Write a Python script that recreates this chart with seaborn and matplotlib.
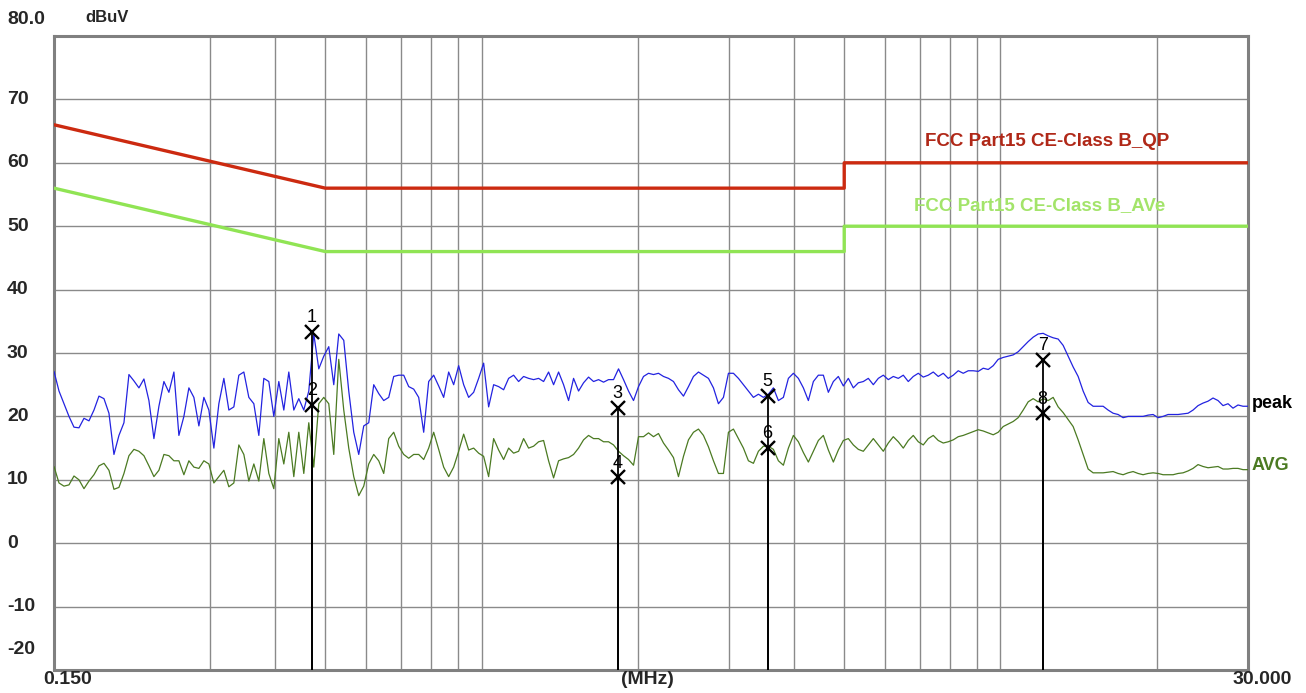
import numpy as np
import pandas as pd
import matplotlib
matplotlib.use("Agg")
import matplotlib.pyplot as plt
import matplotlib.transforms as mtransforms
import seaborn as sns

# ---------------- data ----------------
f_start, f_stop, n_points = 0.15, 30.0, 240

peak_dbuv = [
    27.1, 24.0, 22.0, 20.0, 18.3, 18.2, 19.7, 19.3, 21.0, 23.2,
    22.8, 20.5, 14.0, 17.0, 19.0, 26.6, 25.6, 24.5, 25.9, 22.5,
    16.5, 21.6, 25.5, 23.8, 27.0, 17.0, 20.0, 24.5, 23.0, 18.5,
    23.0, 21.0, 15.0, 22.0, 26.0, 21.0, 21.5, 26.5, 27.0, 23.0,
    22.0, 17.0, 26.0, 25.5, 20.0, 25.5, 21.0, 27.0, 21.0, 22.8,
    21.0, 24.0, 33.0, 27.5, 29.5, 31.0, 25.0, 33.0, 32.0, 24.0,
    17.5, 14.0, 18.5, 19.0, 25.0, 23.6, 22.5, 23.0, 26.3, 26.5,
    26.5, 24.7, 24.3, 23.0, 17.5, 25.5, 26.5, 24.8, 23.0, 27.0,
    25.0, 28.0, 25.0, 23.0, 23.8, 26.0, 28.4, 21.5, 25.0, 24.7,
    24.2, 26.0, 26.5, 25.5, 26.3, 26.0, 25.8, 26.0, 25.5, 27.0,
    25.0, 27.0, 25.0, 22.5, 26.0, 24.0, 25.3, 26.2, 25.5, 25.8,
    25.4, 25.8, 25.8, 27.5, 25.8, 24.0, 22.5, 24.7, 26.3, 26.8,
    26.6, 26.8, 26.3, 26.0, 25.5, 24.2, 23.2, 24.7, 26.3, 27.0,
    26.5, 26.0, 24.5, 22.0, 23.0, 26.8, 26.8, 26.0, 25.0, 24.0,
    23.0, 23.5, 23.0, 23.5, 24.5, 22.5, 23.0, 26.0, 26.8, 26.0,
    24.5, 22.5, 25.5, 26.5, 26.5, 23.8, 25.5, 26.3, 24.8, 26.0,
    24.5, 25.3, 25.5, 26.0, 25.0, 26.0, 26.5, 25.8, 26.3, 26.0,
    26.5, 25.5, 26.3, 26.8, 26.2, 26.5, 27.0, 26.3, 26.8, 26.0,
    26.5, 27.2, 26.8, 27.2, 27.2, 27.1, 27.6, 27.4, 28.0, 29.0,
    29.3, 29.5, 29.7, 30.2, 31.0, 31.8, 32.5, 33.0, 33.1, 32.7,
    32.4, 32.2, 31.2, 29.5, 27.8, 26.3, 24.0, 22.2, 21.6, 21.6,
    21.6, 21.0, 20.5, 20.3, 19.8, 20.0, 20.0, 20.0, 20.0, 20.2,
    20.3, 19.8, 20.0, 20.3, 20.3, 20.3, 20.4, 20.5, 21.0, 21.7,
    22.1, 22.4, 22.9, 22.5, 21.7, 22.0, 21.3, 21.8, 21.6, 21.6,
]

avg_dbuv = [
    12.1, 9.5, 9.0, 9.2, 10.6, 10.0, 8.6, 9.8, 10.8, 12.2,
    12.6, 11.5, 8.5, 8.8, 11.0, 13.8, 14.8, 14.5, 13.8, 12.2,
    10.5, 11.5, 14.0, 13.8, 13.0, 13.0, 10.8, 13.0, 12.0, 11.8,
    13.0, 12.5, 9.5, 10.5, 11.5, 8.9, 9.5, 15.5, 14.0, 9.8,
    12.5, 9.8, 16.5, 11.0, 8.6, 16.5, 12.5, 17.5, 10.5, 17.5,
    11.0, 19.0, 12.0, 22.0, 23.0, 22.0, 14.0, 29.0, 21.0, 15.0,
    10.5, 7.5, 9.0, 12.5, 14.0, 13.0, 11.0, 16.5, 17.5, 15.3,
    14.0, 13.4, 14.0, 14.0, 13.2, 15.0, 17.5, 14.8, 12.0, 10.5,
    12.0, 14.5, 17.2, 14.7, 15.0, 14.2, 13.7, 10.5, 16.5, 14.7,
    13.2, 15.0, 14.2, 14.5, 16.5, 15.0, 15.3, 16.0, 16.2, 13.0,
    10.3, 13.0, 13.3, 13.5, 14.0, 15.0, 16.3, 17.0, 16.5, 16.5,
    16.0, 16.0, 15.5, 14.5, 13.8, 13.2, 12.3, 16.8, 16.8, 17.4,
    16.8, 17.3, 15.8, 14.7, 13.5, 10.5, 13.7, 16.3, 17.5, 18.0,
    17.0, 15.2, 13.0, 11.0, 11.0, 17.5, 18.0, 16.5, 15.0, 13.0,
    12.6, 14.5, 15.3, 15.3, 14.8, 13.0, 12.3, 15.0, 17.0, 16.0,
    14.3, 12.8, 14.5, 16.2, 17.0, 14.7, 12.8, 14.7, 16.2, 16.5,
    15.5, 14.8, 14.5, 15.5, 16.5, 15.5, 14.5, 15.8, 16.8, 16.0,
    15.0, 16.2, 17.0, 16.0, 15.5, 16.5, 17.0, 16.2, 15.8, 16.0,
    16.3, 16.8, 17.0, 17.3, 17.6, 17.9, 17.7, 17.4, 17.1, 17.5,
    18.4, 18.8, 19.2, 19.8, 21.0, 22.3, 22.8, 22.3, 22.8, 22.5,
    23.0, 21.5, 20.6, 19.5, 18.4, 16.3, 14.0, 11.7, 11.1, 11.1,
    11.1, 11.2, 11.3, 11.0, 10.8, 11.1, 11.3, 11.0, 10.8, 11.0,
    11.1, 11.0, 10.8, 10.8, 10.8, 11.0, 11.1, 11.4, 11.8, 12.4,
    12.1, 11.9, 12.0, 12.1, 11.7, 11.7, 11.8, 11.8, 11.6, 11.6,
]

qp_limit_f = [0.15, 0.5, 5.0, 5.0, 30.0]
qp_limit_v = [66.0, 56.0, 56.0, 60.0, 60.0]
av_limit_f = [0.15, 0.5, 5.0, 5.0, 30.0]
av_limit_v = [56.0, 46.0, 46.0, 50.0, 50.0]

marker_ids = ["1", "2", "3", "4", "5", "6", "7", "8"]
marker_f = [0.471, 0.471, 1.83, 1.83, 3.56, 3.56, 12.06, 12.06]
marker_v = [33.3, 21.8, 21.3, 10.4, 23.2, 15.0, 28.9, 20.5]

y_ticks = [70, 60, 50, 40, 30, 20, 10, 0, -10]
x_grid = [0.3, 0.4, 0.5, 0.6, 0.7, 0.8, 0.9, 1, 2, 3, 4, 5, 6, 7, 8, 9, 10, 20]

freq = np.geomspace(f_start, f_stop, n_points)
df = pd.DataFrame({"freq": np.concatenate([freq, freq]),
                   "level": peak_dbuv + avg_dbuv,
                   "trace": ["peak"] * n_points + ["AVG"] * n_points})

# ---------------- plot ----------------
sns.set_theme(style="white")
plt.rcParams["font.family"] = ["Liberation Sans", "DejaVu Sans"]

W, H = 1306, 693
fig = plt.figure(figsize=(W / 100, H / 100), dpi=100)
ax = fig.add_axes([54 / W, (H - 670) / H, (1248 - 54) / W, (670 - 36) / H])

ax.set_xscale("log")
ax.set_xlim(f_start, f_stop)
ax.set_ylim(-20, 80)

# grid
for g in x_grid:
    ax.axvline(g, color="#8a8a8a", lw=1.0, zorder=0)
for t in y_ticks:
    ax.axhline(t, color="#8a8a8a", lw=1.0, zorder=0)
ax.set_xticks([])
ax.set_yticks([])
ax.minorticks_off()
ax.tick_params(which="both", length=0)
for s in ax.spines.values():
    s.set_color("#808080")
    s.set_linewidth(2.2)

# limit lines
sns.lineplot(x=qp_limit_f, y=qp_limit_v, ax=ax, color="#cc2a10", lw=2.4,
             sort=False, estimator=None, zorder=3)
sns.lineplot(x=av_limit_f, y=av_limit_v, ax=ax, color="#90e454", lw=2.4,
             sort=False, estimator=None, zorder=3)

# traces
sns.lineplot(data=df, x="freq", y="level", hue="trace",
             palette={"peak": "#2323e0", "AVG": "#4b7a22"},
             hue_order=["AVG", "peak"], lw=0.9, ax=ax, legend=False,
             estimator=None, sort=False, zorder=4)

# markers
ax.vlines(marker_f, -20, marker_v, color="black", lw=1.3, zorder=5)
ax.plot(marker_f, marker_v, "x", color="black", ms=10, mew=1.7, zorder=6)
for mid, mf, mv in zip(marker_ids, marker_f, marker_v):
    ax.text(mf, mv + 0.9, mid, ha="center", va="bottom", fontsize=13,
            color="black", zorder=7)

# limit labels
ax.text(12.3, 63.3, "FCC Part15 CE-Class B_QP", color="#b02818",
        fontsize=13.5, fontweight="bold", ha="center", va="center")
ax.text(11.9, 53.3, "FCC Part15 CE-Class B_AVe", color="#a3e46a",
        fontsize=13.5, fontweight="bold", ha="center", va="center")

# trace labels right of frame
ax.annotate("peak", xy=(1.003, 22.1), xycoords=("axes fraction", "data"),
            fontsize=13, fontweight="bold", color="black", va="center",
            annotation_clip=False)
ax.annotate("AVG", xy=(1.003, 12.2), xycoords=("axes fraction", "data"),
            fontsize=13, fontweight="bold", color="#4b7a22", va="center",
            annotation_clip=False)

# y labels (left aligned at fixed x)
ytr = mtransforms.blended_transform_factory(fig.transFigure, ax.transData)
for t in y_ticks:
    ax.text(7 / W, t, str(t), transform=ytr, ha="left", va="center",
            fontsize=14, fontweight="bold", clip_on=False)
fig.text(7 / W, 1 - 20 / H, "80.0", ha="left", va="center",
         fontsize=14, fontweight="bold")
fig.text(7 / W, 1 - 649 / H, "-20", ha="left", va="center",
         fontsize=14, fontweight="bold")
fig.text(85 / W, 1 - 18 / H, "dBuV", ha="left", va="center",
         fontsize=12, fontweight="bold")

# x labels
xtr = mtransforms.blended_transform_factory(ax.transData, fig.transFigure)
ax.text(0.159, 1 - 680 / H, "0.150", transform=xtr, ha="center", va="center",
        fontsize=14, fontweight="bold", clip_on=False)
ax.text(2.09, 1 - 680 / H, "(MHz)", transform=xtr, ha="center", va="center",
        fontsize=14, fontweight="bold", clip_on=False)
fig.text(1262 / W, 1 - 680 / H, "30.000", ha="center", va="center",
         fontsize=14, fontweight="bold")

ax.set_xlabel("")
ax.set_ylabel("")
fig.savefig("out.png", dpi=100)
